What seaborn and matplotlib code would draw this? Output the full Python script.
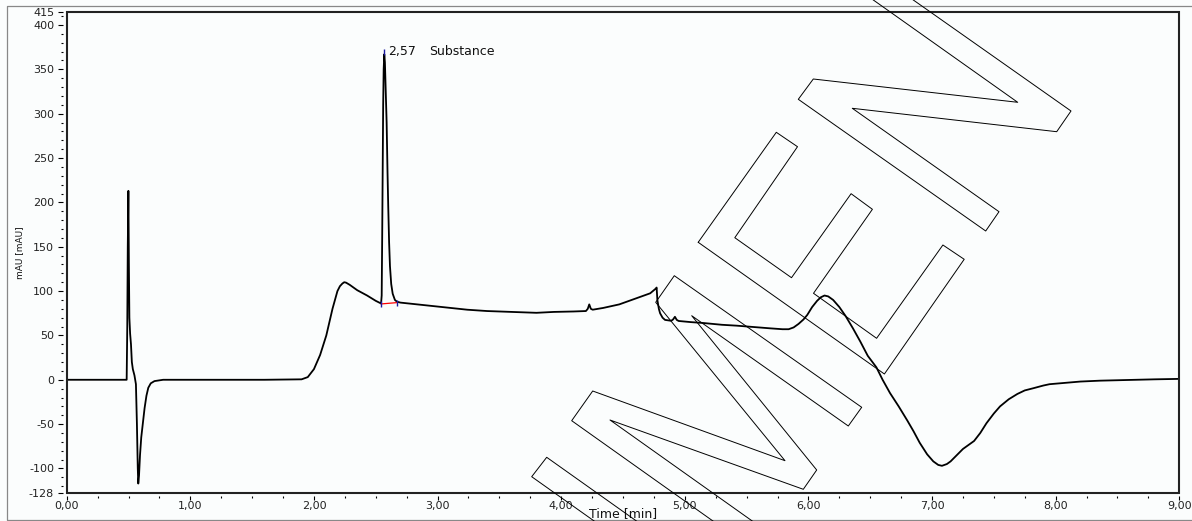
import pandas as pd
import seaborn as sns
import matplotlib.pyplot as plt
from matplotlib.lines import Line2D
from matplotlib.patches import Rectangle
from matplotlib.ticker import FixedLocator, MultipleLocator

# chromatogram trace (time in min, signal in mAU)
time_min = [
    0.00, 0.25, 0.48, 0.485, 0.490, 0.494, 0.499, 0.503, 0.507, 0.513, 0.520,
    0.527, 0.535, 0.548, 0.560, 0.568, 0.575, 0.579, 0.585, 0.593, 0.603,
    0.615, 0.630, 0.645, 0.660, 0.680, 0.710, 0.780, 1.20, 1.60, 1.90,
    1.95, 2.00, 2.05, 2.10, 2.15, 2.19, 2.21, 2.23, 2.245, 2.26, 2.29, 2.35,
    2.43, 2.50,
    2.543, 2.548, 2.552, 2.556, 2.560, 2.564, 2.569, 2.574, 2.580, 2.588,
    2.595, 2.601, 2.608, 2.615, 2.625, 2.637, 2.655, 2.672, 2.70, 2.80,
    2.90, 2.97, 3.10, 3.24, 3.40, 3.50, 3.70, 3.80, 3.94, 4.10, 4.20,
    4.215, 4.227, 4.24, 4.255, 4.34, 4.47, 4.61, 4.72, 4.767, 4.772,
    4.778, 4.79, 4.80, 4.82, 4.84, 4.89, 4.905, 4.92, 4.935, 4.95, 5.05,
    5.15, 5.30, 5.42, 5.55, 5.69, 5.79, 5.84, 5.88, 5.92, 5.96, 5.99,
    6.03, 6.07, 6.10, 6.13, 6.16, 6.20, 6.25, 6.30, 6.36, 6.42, 6.48,
    6.55, 6.60, 6.66, 6.73, 6.80, 6.85, 6.90, 6.96, 7.01, 7.05, 7.08,
    7.12, 7.15, 7.20, 7.25, 7.30, 7.34, 7.39, 7.44, 7.50, 7.55, 7.62,
    7.69, 7.75, 7.82, 7.90, 7.95, 8.09, 8.20, 8.36, 8.50, 8.63, 8.80, 9.00,
]
signal_mau = [
    0.0, 0.0, 0.0, 0.0, 60, 150, 213, 130, 70, 52, 40,
    20, 12, 5, -5, -50, -100, -117, -108, -85, -65,
    -50, -32, -18, -9, -4, -1.5, 0.0, 0.0, 0.0, 0.5,
    3, 12, 28, 50, 80, 100, 105.5, 108.5, 110, 109.5, 107, 101,
    95, 89,
    86, 95, 160, 240, 310, 350, 367, 358, 330, 290,
    235, 195, 155, 128, 108, 97, 90, 88, 87, 85.5,
    84, 83, 81, 79, 77.5, 77, 76, 75.5, 76.5, 77, 77.5,
    80, 85, 80, 79, 81, 85, 92, 97.5, 103, 104,
    90, 80, 75, 70, 67.5, 66.5, 68, 71, 67.5, 66.3, 65,
    64, 62, 61, 59.5, 58, 57, 57, 59, 63, 68, 73,
    82, 89, 93, 95, 94, 90, 82, 72, 58, 43, 27,
    14, 0, -15, -30, -46, -58, -71, -84, -92, -96, -97,
    -95, -92, -85, -78, -73, -69, -60, -49, -38, -30, -22,
    -16, -12, -9.5, -6.5, -5, -3.3, -2, -1, -0.5, 0.0, 0.5, 1.0,
]

# integrated peak
peak_rt = 2.57
peak_apex = 369
peak_name = "Substance"
baseline_time = [2.543, 2.672]
baseline_mau = [85.5, 87.0]

x_ticks = [0, 1, 2, 3, 4, 5, 6, 7, 8, 9]
x_tick_labels = ["0,00", "1,00", "2,00", "3,00", "4,00", "5,00", "6,00", "7,00", "8,00", "9,00"]
y_ticks = [-128, -100, -50, 0, 50, 100, 150, 200, 250, 300, 350, 400, 415]
y_tick_labels = ["-128", "-100", "-50", "0", "50", "100", "150", "200", "250", "300", "350", "400", "415"]

W, H = 1192, 521
BG = "#fbfdfd"

# outlined watermark letters, in picture pixels (decoration only)
WATERMARK = [
    [(620.9, 540), (531.7, 476.7), (546.7, 457.3), (663.2, 540)],
    [(739.7, 540), (571.7, 420.7), (592.7, 391), (785, 460.7), (655.7, 302.3),
     (674.3, 275.7), (861.7, 407.3), (848.3, 426), (691.7, 315.7), (816.7, 470),
     (803.3, 489.3), (610, 420), (779, 540)],
    [(698.2, 242.3), (776.3, 132.3), (797.5, 146.7), (734.8, 237.7), (791.5, 277.7),
     (851.1, 193.7), (872.4, 209.3), (813.5, 293.3), (876.6, 338.3), (942.9, 245),
     (964.2, 259.3), (884.4, 374), (698.2, 242.3)],
    [(845.1, -20), (1017.7, 102.3), (813.3, 79), (798.3, 99.3), (985.7, 231),
     (999, 211.7), (852.3, 108.3), (1056.7, 131.7), (1071, 111), (884.9, -20)],
]


def fig_line(fig, pts, **kw):
    xs = [x / W for x, _ in pts]
    ys = [1 - y / H for _, y in pts]
    fig.add_artist(Line2D(xs, ys, transform=fig.transFigure, **kw))


sns.set_style("white")
plt.rcParams["font.family"] = ["DejaVu Sans"]

df = pd.DataFrame({"time": time_min, "mAU": signal_mau})

fig = plt.figure(figsize=(W / 100, H / 100), dpi=100, facecolor=BG)
ax = fig.add_axes([66.7 / W, 1 - 493.3 / H, 1112.6 / W, 481.6 / H])
ax.set_facecolor(BG)

sns.lineplot(data=df, x="time", y="mAU", ax=ax, color="black", linewidth=1.3,
             sort=False, estimator=None)

# integration baseline and peak markers
ax.plot(baseline_time, baseline_mau, color="red", linewidth=0.9)
ax.plot(baseline_time, baseline_mau, linestyle="none", marker="|", color="#1a1aa0",
        markersize=5, markeredgewidth=1.0)
ax.plot([peak_rt], [peak_apex], linestyle="none", marker="|", color="#1a1aa0",
        markersize=4, markeredgewidth=1.0)
ax.annotate(f"{peak_rt:.2f}".replace(".", ","), (peak_rt, peak_apex), xytext=(2.6, 1),
            textcoords="offset points", fontsize=9, va="center", color="#111")
ax.annotate(peak_name, (peak_rt, peak_apex), xytext=(32, 1),
            textcoords="offset points", fontsize=9, va="center", color="#111")

ax.set_xlim(0, 9)
ax.set_ylim(-128, 415)
ax.xaxis.set_major_locator(FixedLocator(x_ticks))
ax.set_xticklabels(x_tick_labels)
ax.xaxis.set_minor_locator(MultipleLocator(0.25))
ax.yaxis.set_major_locator(FixedLocator(y_ticks))
ax.set_yticklabels(y_tick_labels)
ax.yaxis.set_minor_locator(MultipleLocator(10))

# ticks sit a few pixels outside the frame, as in the reference
ax.spines["left"].set_position(("outward", 3))
ax.spines["bottom"].set_position(("outward", 2.2))
for side in ["left", "right", "top", "bottom"]:
    ax.spines[side].set_color("none")
ax.add_patch(Rectangle((0, 0), 1, 1, transform=ax.transAxes, fill=False,
                       edgecolor="#222", linewidth=1.5, clip_on=False, zorder=5))

ax.tick_params(axis="y", which="major", direction="out", length=3.6, width=0.8,
               color="black", labelsize=8, labelcolor="#222", pad=2.4, left=True)
ax.tick_params(axis="y", which="minor", direction="out", length=1.3, width=0.8,
               color="black", left=True)
ax.tick_params(axis="x", which="major", direction="out", length=2.6, width=0.8,
               color="black", labelsize=8, labelcolor="#222", pad=1.0, bottom=True)
ax.tick_params(axis="x", which="minor", direction="out", length=1.3, width=0.8,
               color="black", bottom=True)

ax.set_xlabel("Time [min]", fontsize=9, color="#111")
ax.xaxis.set_label_coords(0.5, -0.041)
ax.xaxis.label.set_va("center")
ax.set_ylabel("mAU [mAU]", fontsize=6.5, color="#111")
ax.yaxis.set_label_coords(-0.0426, 0.5)
ax.yaxis.label.set_va("center")

# outer grey frame
fig_line(fig, [(1200, 6), (6.7, 6), (6.7, 520), (1200, 520)], color="#888", linewidth=0.9)

for shape in WATERMARK:
    fig_line(fig, shape, color="black", linewidth=0.7, zorder=10)

fig.savefig("out.png", dpi=100, facecolor=BG)
